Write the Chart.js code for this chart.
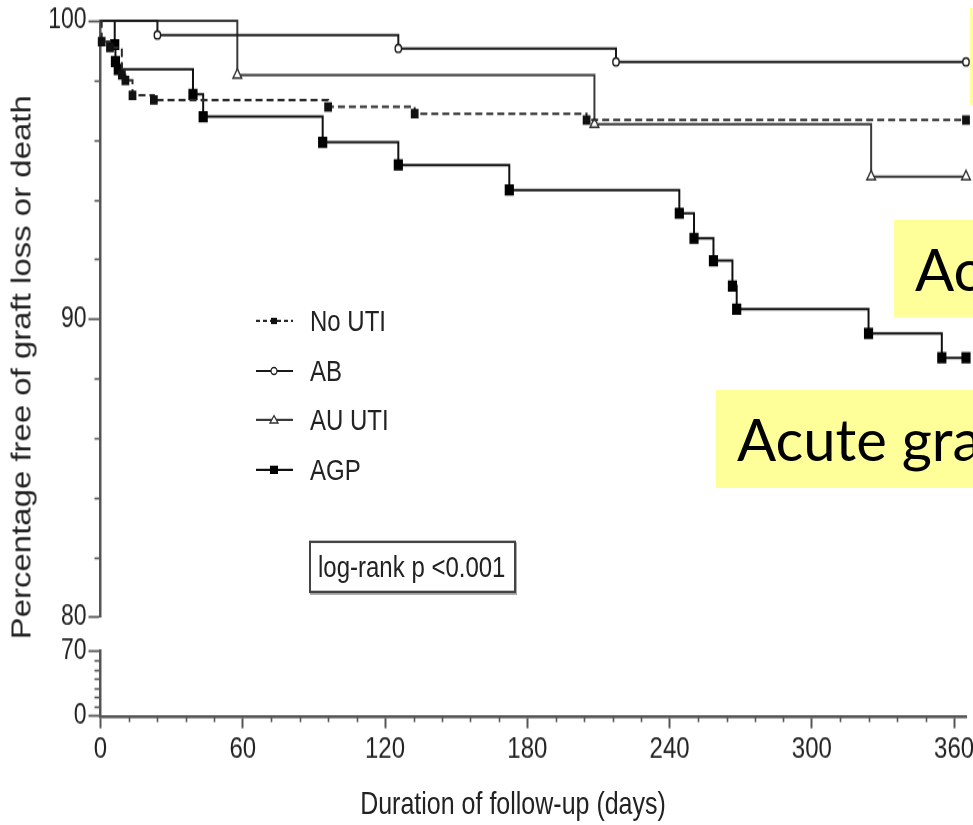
<!DOCTYPE html>
<html><head><meta charset="utf-8">
<script src="https://cdn.jsdelivr.net/npm/chart.js@4.4.1/dist/chart.umd.min.js"></script>
<style>
html,body{margin:0;padding:0;background:#fff;}
body{width:973px;height:825px;overflow:hidden;position:relative;color:#222;
  font-family:'Liberation Sans',Arial,sans-serif;}
/* the reference figure is vertically stretched (~1.22x); reproduce by scaling the chart block */
#wrap{position:absolute;left:0;top:0;width:973px;height:676px;transform-origin:0 0;transform:scaleY(1.2204);}
.t{position:absolute;white-space:nowrap;}
.leg{position:absolute;left:255px;width:300px;height:28px;}
.leg svg{position:absolute;left:0;top:8px;}
.leg span{position:absolute;left:55px;top:0;font-size:24px;line-height:28px;}
#ytitle{left:22px;top:300.7px;font-size:27px;line-height:31px;transform:translate(-50%,-50%) rotate(-90deg);}
#xtitle{left:513px;top:658px;font-size:25px;line-height:28px;transform:translate(-50%,-50%);}
#logrank{position:absolute;left:309px;top:442.5px;width:207px;height:43.4px;box-sizing:border-box;
  border:2px solid #444;box-shadow:1px 1.5px 0 #aaa;font-size:24px;line-height:39.4px;padding-left:7px;white-space:nowrap;}
.yb{position:absolute;background:#ffff99;font-family:Lato,'Noto Sans',sans-serif;font-size:58px;color:#000;white-space:nowrap;overflow:hidden;}
</style></head><body>
<div id="wrap">
  <canvas id="c" width="973" height="676"></canvas>
  <div class="t" id="ytitle">Percentage free of graft loss or death</div>
  <div class="t" id="xtitle">Duration of follow-up (days)</div>
  <div id="legend"></div>
  <div id="logrank">log-rank p &lt;0.001</div>
</div>
<div class="yb" style="left:970px;top:8px;width:20px;height:97px;"></div>
<div class="yb" style="left:894px;top:220px;width:120px;height:97px;line-height:97px;padding-left:21px;">Ac</div>
<div class="yb" style="left:716px;top:390px;width:300px;height:98px;line-height:98px;padding-left:21px;">Acute gra</div>
<script>
// ---- data (Kaplan-Meier steps) ----
const seriesNames = ['No UTI', 'AB', 'AU UTI', 'AGP'];
const daysNoUTI = [0, 0.5, 4, 9, 10.5, 13.5, 22.5, 96, 132.5, 205, 365];
const survNoUTI = [100, 99.3, 99.1, 98.18, 98.0, 97.5, 97.34, 97.11, 96.88, 96.67, 96.67];
const daysAB = [0, 24, 125.6, 217.4, 365];
const survAB = [100, 99.52, 99.07, 98.62, 98.62];
const daysAU = [0, 57.7, 208.3, 325, 365];
const survAU = [100, 98.18, 96.53, 94.77, 94.77];
const daysAGP = [0, 6, 6.3, 7.5, 39, 43.3, 93.7, 125.6, 172.4, 244.1, 250.3, 258.5, 266.5, 268.3, 323.9, 354.8, 365];
const survAGP = [100, 99.2, 98.63, 98.37, 97.53, 96.78, 95.92, 95.16, 94.32, 93.54, 92.70, 91.95, 91.10, 90.32, 89.51, 88.69, 88.69];
const xTickLabels = [0, 60, 120, 180, 240, 300, 360];
const yTopTickLabels = [80, 90, 100];
const yBottomTickLabels = [0, 70];

const AXIS = '#555';
const FONT = "'Liberation Sans',Arial,sans-serif";

const styles = [
  {pointStyle:'rect', r:4.5, bg:'#111', bc:'#111', line:'#2a2a2a', dash:[7,4]},
  {pointStyle:'circle', r:3.2, bg:'#fff', bc:'#1a1a1a', line:'#1a1a1a', dash:[]},
  {pointStyle:'triangle', r:5, bg:'#fff', bc:'#333', line:'#3a3a3a', dash:[]},
  {pointStyle:'rect', r:5.5, bg:'#000', bc:'#000', line:'#111', dash:[]}
];
const allDays = [daysNoUTI, daysAB, daysAU, daysAGP];
const allSurv = [survNoUTI, survAB, survAU, survAGP];

const datasets = seriesNames.map((name, k) => {
  const st = styles[k];
  return {
    label: name,
    data: allDays[k].map((d, i) => ({x: d, y: allSurv[k][i]})),
    xAxisID: 'x', yAxisID: 'yTop',
    stepped: true, fill: false, tension: 0, clip: false,
    borderColor: st.line, borderWidth: 2, borderDash: st.dash,
    pointStyle: st.pointStyle,
    pointRadius: c => c.dataIndex === 0 ? 0 : st.r,
    pointHoverRadius: c => c.dataIndex === 0 ? 0 : st.r,
    pointBackgroundColor: st.bg, pointBorderColor: st.bc, pointBorderWidth: 1.4
  };
});

const majorColor = (list) => (c) => (c.tick && list.includes(c.tick.value)) ? AXIS : 'rgba(0,0,0,0)';
const labelCb = (list) => (v) => list.includes(v) ? String(v) : '';

function yFit(s) { s.width = 100.5; s.paddingTop = 0; s.paddingBottom = 0; }

const minorTicks = {
  id: 'minorTicks',
  afterDraw(chart) {
    const ctx = chart.ctx;
    ctx.save();
    ctx.strokeStyle = AXIS; ctx.lineWidth = 1.6;
    const specs = [['x', xTickLabels, 5], ['yTop', yTopTickLabels, 6], ['yBot', yBottomTickLabels, 6]];
    for (const [id, majors, len] of specs) {
      const s = chart.scales[id];
      for (const t of s.ticks) {
        if (majors.includes(t.value)) continue;
        const p = Math.round(s.getPixelForValue(t.value)) + 0.5;
        ctx.beginPath();
        if (s.isHorizontal()) { ctx.moveTo(p, s.top); ctx.lineTo(p, s.top + len); }
        else { ctx.moveTo(s.right, p); ctx.lineTo(s.right - len, p); }
        ctx.stroke();
      }
    }
    ctx.restore();
  }
};

new Chart(document.getElementById('c'), {
  type: 'line',
  data: {datasets},
  plugins: [minorTicks],
  options: {
    responsive: false, animation: false,
    layout: {padding: {top: 17, right: 7, bottom: 0, left: 0}},
    plugins: {legend: {display: false}, tooltip: {enabled: false}},
    scales: {
      x: {
        type: 'linear', position: 'bottom', min: 0, max: 365,
        border: {color: AXIS, width: 2.4},
        grid: {drawOnChartArea: false, tickLength: 10, tickWidth: 2, tickColor: majorColor(xTickLabels)},
        ticks: {stepSize: 12, includeBounds: false, autoSkip: false, maxRotation: 0, padding: 3,
          color: '#222', font: {family: FONT, size: 24}, callback: labelCb(xTickLabels)},
        afterFit(s) { s.height = 89.3; s.paddingLeft = 0; s.paddingRight = 0; }
      },
      yBot: {
        type: 'linear', position: 'left', stack: 'y', stackWeight: 65, weight: 1,
        min: 0, max: 70,
        border: {color: AXIS, width: 2.5},
        grid: {drawOnChartArea: false, tickLength: 12, tickWidth: 1.8, tickColor: majorColor(yBottomTickLabels)},
        ticks: {stepSize: 10, autoSkip: false, padding: 2, color: '#222', font: {family: FONT, size: 23},
          callback: labelCb(yBottomTickLabels)},
        afterFit: yFit
      },
      yGap: {
        type: 'linear', position: 'left', stack: 'y', stackWeight: 34.3, weight: 2,
        min: 0, max: 1,
        border: {display: false}, grid: {display: false}, ticks: {display: false},
        afterFit: yFit
      },
      yTop: {
        type: 'linear', position: 'left', stack: 'y', stackWeight: 596, weight: 3,
        min: 80, max: 100,
        border: {color: AXIS, width: 2.5},
        grid: {drawOnChartArea: false, tickLength: 12, tickWidth: 1.8, tickColor: majorColor(yTopTickLabels)},
        ticks: {stepSize: 2, autoSkip: false, padding: 2, color: '#222', font: {family: FONT, size: 23},
          callback: labelCb(yTopTickLabels)},
        afterFit: yFit
      }
    }
  }
});

// ---- HTML legend built from the series styles (coordinates in the unstretched block) ----
const legendY = [263.0, 303.2, 343.3, 384.3];
const legend = document.getElementById('legend');
seriesNames.forEach((name, k) => {
  const st = styles[k];
  let mark = '';
  const cx = 19, cy = 6;
  if (k === 0 || k === 3) {
    const w = k === 0 ? 3 : 4, h = k === 0 ? 2.6 : 3.4;
    mark = `<rect x="${cx - w}" y="${cy - h}" width="${2 * w}" height="${2 * h}" fill="${st.bg}"/>`;
  } else if (k === 1) {
    mark = `<ellipse cx="${cx}" cy="${cy}" rx="3" ry="2.8" fill="#fff" stroke="${st.bc}" stroke-width="1.2"/>`;
  } else {
    mark = `<polygon points="${cx},${cy - 3.4} ${cx - 4},${cy + 2.6} ${cx + 4},${cy + 2.6}" fill="#fff" stroke="${st.bc}" stroke-width="1.2"/>`;
  }
  const dash = st.dash.length ? 'stroke-dasharray="4,3"' : '';
  const row = document.createElement('div');
  row.className = 'leg';
  row.style.top = (legendY[k] - 13.7) + 'px';
  row.innerHTML = `<svg width="40" height="12"><line x1="1" y1="${cy}" x2="38" y2="${cy}" stroke="${st.line}" stroke-width="1.8" ${dash}/>${mark}</svg><span>${name}</span>`;
  legend.appendChild(row);
});
</script>
</body></html>
